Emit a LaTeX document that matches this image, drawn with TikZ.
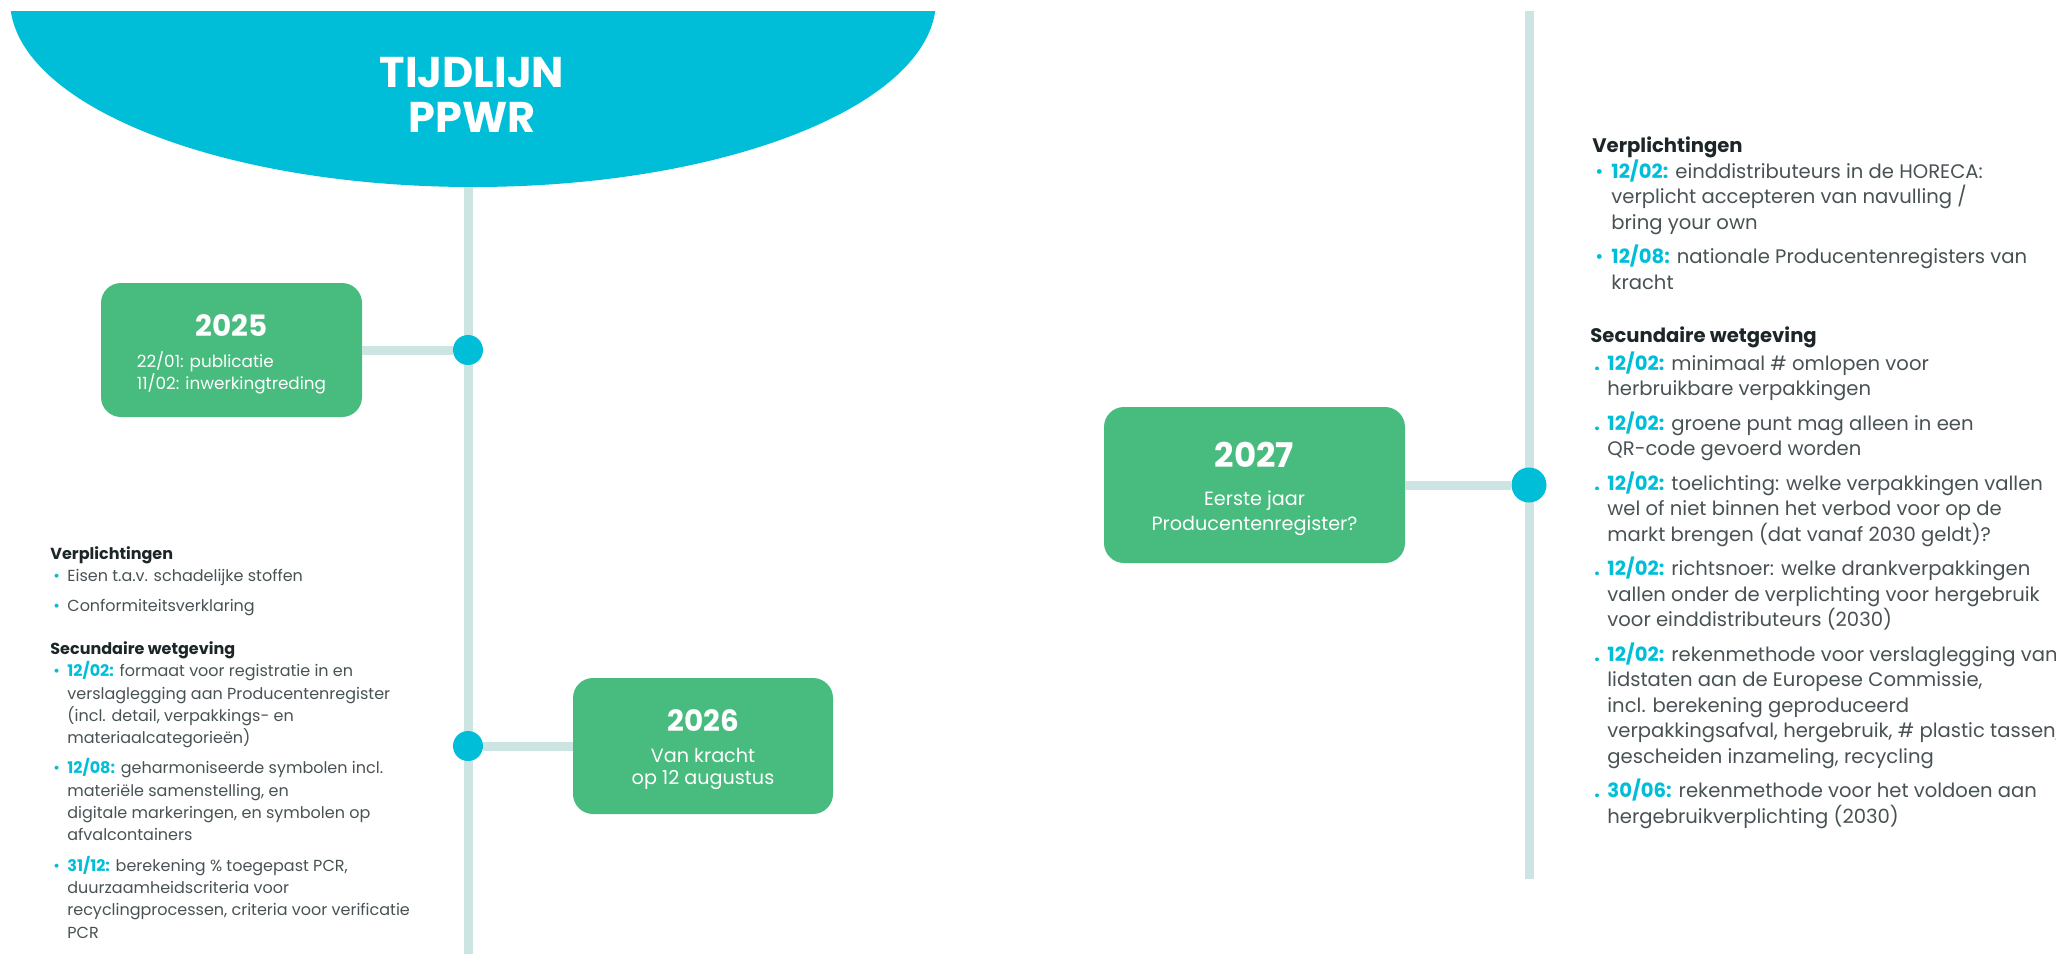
\documentclass[tikz,border=0pt]{standalone}
\usepackage{fontspec}
\setmainfont{Poppins}

\definecolor{ppcyan}{RGB}{0,190,216}
\definecolor{ppgreen}{RGB}{72,187,126}
\definecolor{pptrack}{RGB}{204,229,226}
\definecolor{pptext}{RGB}{72,82,84}
\definecolor{pphead}{RGB}{28,38,40}

\newcommand{\pdate}[1]{\textcolor{ppcyan}{\bfseries #1}}
\newcommand{\pbul}[1][8.5pt]{\makebox[#1][l]{\hspace{1.5pt}\textcolor{ppcyan}{\textbullet}}}
\newcommand{\pdot}{\makebox[8.5pt][l]{\hspace{2pt}\textcolor{ppcyan}{\bfseries .}}}
\newcommand{\pind}[1][8.5pt]{\hspace*{#1}}
\newcommand{\phead}[1]{\textcolor{pphead}{\bfseries #1}}
\newcommand{\pyear}{\fontsize{14.7}{18}\selectfont\bfseries}

\begin{document}
\begin{tikzpicture}[x=0.5pt,y=-0.5pt]

  \tikzset{yearbox/.style={fill=ppgreen, rounded corners=10pt, inner sep=0pt},
    yeartext/.style={text=white, align=center, anchor=base, inner sep=0pt, font=\fontsize{8.4}{11}\selectfont},
    dot/.style={circle, fill=ppcyan, inner sep=0pt, minimum size=15pt},
    track/.style={draw=pptrack, line width=4.5pt},
    infoL/.style={anchor=base west, align=left, inner sep=0pt, text=pptext, font=\fontsize{8}{11.15}\selectfont},
    infoR/.style={anchor=base west, align=left, inner sep=0pt, text=pptext, font=\fontsize{9.8}{12.75}\selectfont}}

  \useasboundingbox (0,0) rectangle (2056,954);

%% Header
  \begin{scope}
    \clip (0,11) rectangle (1000,400);
    \fill[ppcyan] (473,0) ellipse [x radius=463, y radius=187];
  \end{scope}
  \node[font=\fontsize{21.5}{22.5}\selectfont\bfseries, text=white, align=center] (title) at (472,95) {TIJDLIJN\\PPWR};

%% Tracks
  \coordinate (top25) at (468,187);
  \coordinate (end25) at (468,954);
  \coordinate (top27) at (1529,11);
  \coordinate (end27) at (1529,879);
  \draw[track] (top25) -- (end25);
  \draw[track] (top27) -- (end27);

%% Years
  \node[yearbox, minimum width=130.5pt, minimum height=67pt] (b25) at (231.5,350) {};
  \node[yearbox, minimum width=130pt, minimum height=68pt] (b26) at (703,746) {};
  \node[yearbox, minimum width=150.5pt, minimum height=78pt] (b27) at (1254.5,485) {};

  \node[yeartext] (t25) at (231.5,389) {{\pyear 2025}\\[4.5pt]\rlap{22/01: publicatie}\phantom{11/02: inwerkingtreding}\\11/02: inwerkingtreding};
  \node[yeartext, font=\fontsize{9.6}{11}\selectfont] (t26) at (703,784) {{\pyear 2026}\\[4.5pt]Van kracht\\op 12 augustus};
  \node[yeartext, font=\fontsize{9.6}{12.5}\selectfont] (t27) at (1254.5,530) {{\fontsize{17}{19}\selectfont\bfseries 2027}\\[6.5pt]Eerste jaar\\Producentenregister?};

  \node[dot] (d25) at (468,350) {};
  \node[dot] (d26) at (468,746) {};
  \node[dot, minimum size=17.5pt] (d27) at (1529,485) {};

  \draw[track] (b25.east) -- (d25.west);
  \draw[track] (d26.east) -- (b26.west);
  \draw[track] (b27.east) -- (d27.west);

%% Texts (placed at the baseline of their last line)
  \node[infoL] (plicht25) at (50,611) {\phead{Verplichtingen}\\
    \pbul Eisen t.a.v. schadelijke stoffen\\[3.5pt]
    \pbul Conformiteitsverklaring};
  \node[infoL] (sec25) at (50,938) {\phead{Secundaire wetgeving}\\
    \pbul\pdate{12/02:} formaat voor registratie in en\\
    \pind verslaglegging aan Producentenregister\\
    \pind (incl. detail, verpakkings- en\\
    \pind materiaalcategorieën)\\[4pt]
    \pbul\pdate{12/08:} geharmoniseerde symbolen incl.\\
    \pind materiële samenstelling, en\\
    \pind digitale markeringen, en symbolen op\\
    \pind afvalcontainers\\[4pt]
    \pbul\pdate{31/12:} berekening \% toegepast PCR,\\
    \pind duurzaamheidscriteria voor\\
    \pind recyclingprocessen, criteria voor verificatie\\
    \pind PCR};

  \node[infoR] (plicht27) at (1592,289) {\phead{Verplichtingen}\\
    \pbul[9.5pt]\pdate{12/02:} einddistributeurs in de HORECA:\\
    \pind[9.5pt]verplicht accepteren van navulling /\\
    \pind[9.5pt]bring your own\\[4.5pt]
    \pbul[9.5pt]\pdate{12/08:} nationale Producentenregisters van\\
    \pind[9.5pt]kracht};
  \node[infoR] (sec27) at (1590,823) {\phead{Secundaire wetgeving}\\[1.25pt]
    \pdot\pdate{12/02:} minimaal \# omlopen voor\\
    \pind herbruikbare verpakkingen\\[4.5pt]
    \pdot\pdate{12/02:} groene punt mag alleen in een\\
    \pind QR-code gevoerd worden\\[4.5pt]
    \pdot\pdate{12/02:} toelichting: welke verpakkingen vallen\\
    \pind wel of niet binnen het verbod voor op de\\
    \pind markt brengen (dat vanaf 2030 geldt)?\\[4.5pt]
    \pdot\pdate{12/02:} richtsnoer: welke drankverpakkingen\\
    \pind vallen onder de verplichting voor hergebruik\\
    \pind voor einddistributeurs (2030)\\[4.5pt]
    \pdot\pdate{12/02:} rekenmethode voor verslaglegging van\\
    \pind lidstaten aan de Europese Commissie,\\
    \pind incl. berekening geproduceerd\\
    \pind verpakkingsafval, hergebruik, \# plastic tassen,\\
    \pind gescheiden inzameling, recycling\\[4.5pt]
    \pdot\pdate{30/06:} rekenmethode voor het voldoen aan\\
    \pind hergebruikverplichting (2030)};

\end{tikzpicture}
\end{document}
